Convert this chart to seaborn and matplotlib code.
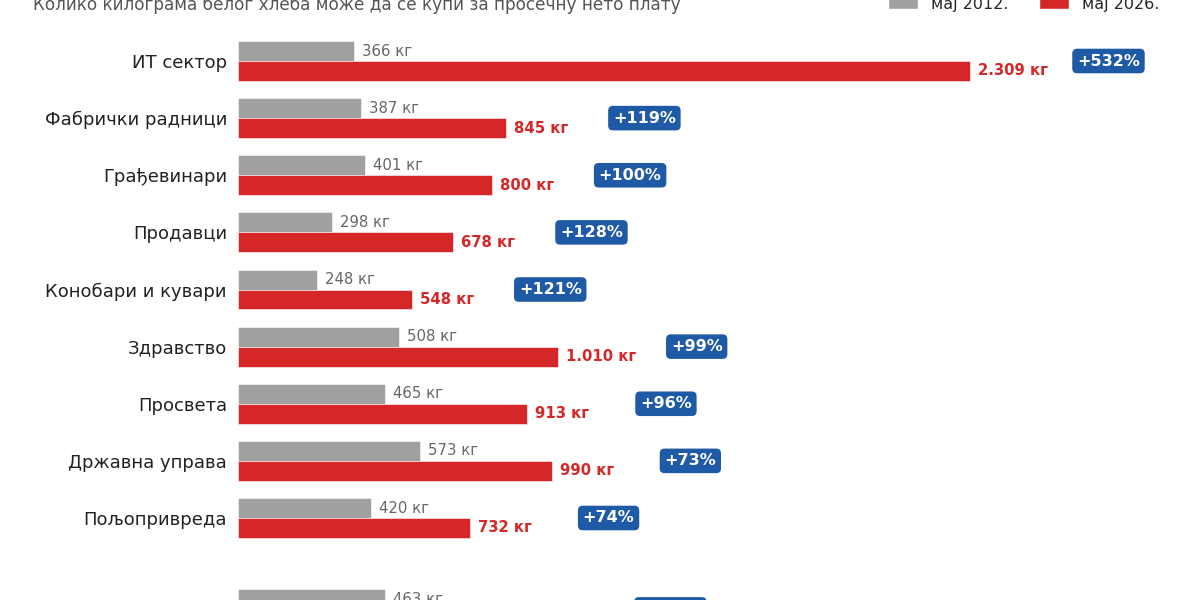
import seaborn as sns
import matplotlib.pyplot as plt
from matplotlib.patches import Patch
import pandas as pd

sectors = ["ИТ сектор", "Фабрички радници", "Грађевинари", "Продавци",
           "Конобари и кувари", "Здравство", "Просвета", "Државна управа",
           "Пољопривреда", "Просек"]
kg_2012 = [366, 387, 401, 298, 248, 508, 465, 573, 420, 463]
kg_2026 = [2309, 845, 800, 678, 548, 1010, 913, 990, 732, 927]
growth = ["+532%", "+119%", "+100%", "+128%", "+121%", "+99%", "+96%", "+73%", "+74%", "+100%"]
rows = [0, 1, 2, 3, 4, 5, 6, 7, 8, 9.6]

gray = "#a0a0a0"
red = "#d62728"
blue = "#1f5aa6"

sns.set_theme(style="white")
plt.rcParams["font.family"] = ["DejaVu Sans"]

df = pd.DataFrame({
    "row": rows * 2,
    "kg": kg_2012 + kg_2026,
    "period": ["мај 2012."] * len(rows) + ["мај 2026."] * len(rows),
})

fig = plt.figure(figsize=(12, 6), dpi=100)
ax = fig.add_axes([238 / 1200, -100 / 600, 962 / 1200, 700 / 600])

sns.barplot(data=df, x="kg", y="row", hue="period", orient="y", native_scale=True,
            palette=[gray, red], saturation=1, width=0.7, edgecolor="white",
            linewidth=0.4, errorbar=None, legend=False, ax=ax)

ax.set_xlim(0, 962 / 0.317)
ax.set_ylim((700 - 61) / 57.125, -61 / 57.125)
ax.set_yticks(rows)
ax.set_yticklabels(sectors, fontsize=13, color="#222222")
ax.tick_params(axis="y", length=0, pad=8)
ax.set_xticks([])
ax.set_xlabel("")
ax.set_ylabel("")
sns.despine(ax=ax, left=True, bottom=True)

def fmt(v):
    return f"{v:,}".replace(",", ".") + " кг"

for r, a, b, g in zip(rows, kg_2012, kg_2026, growth):
    ax.text(a + 25, r - 0.175, fmt(a), va="center", ha="left", fontsize=10.7, color="#666666")
    ax.text(b + 25, r + 0.175, fmt(b), va="center", ha="left", fontsize=10.7,
            color=red, fontweight="bold")
    ax.text(max(a, b) + 437, r, g, va="center", ha="center", fontsize=11.5,
            color="white", fontweight="bold",
            bbox=dict(boxstyle="round,pad=0.3", fc=blue, ec="none"))

fig.text(33 / 1200, 1 - 10 / 600,
         "Колико килограма белог хлеба може да се купи за просечну нето плату",
         fontsize=12.2, color="#555555", va="baseline", ha="left")

handles = [Patch(facecolor=gray, edgecolor="white"), Patch(facecolor=red, edgecolor="white")]
fig.legend(handles, ["мај 2012.", "мај 2026."], loc="center left",
           bbox_to_anchor=(888 / 1200, 1 - 4 / 600), ncol=2, frameon=False,
           fontsize=11.5, borderpad=0, borderaxespad=0, handlelength=1.85,
           handletextpad=0.85, columnspacing=1.9)

fig.savefig("out.png", dpi=100)
